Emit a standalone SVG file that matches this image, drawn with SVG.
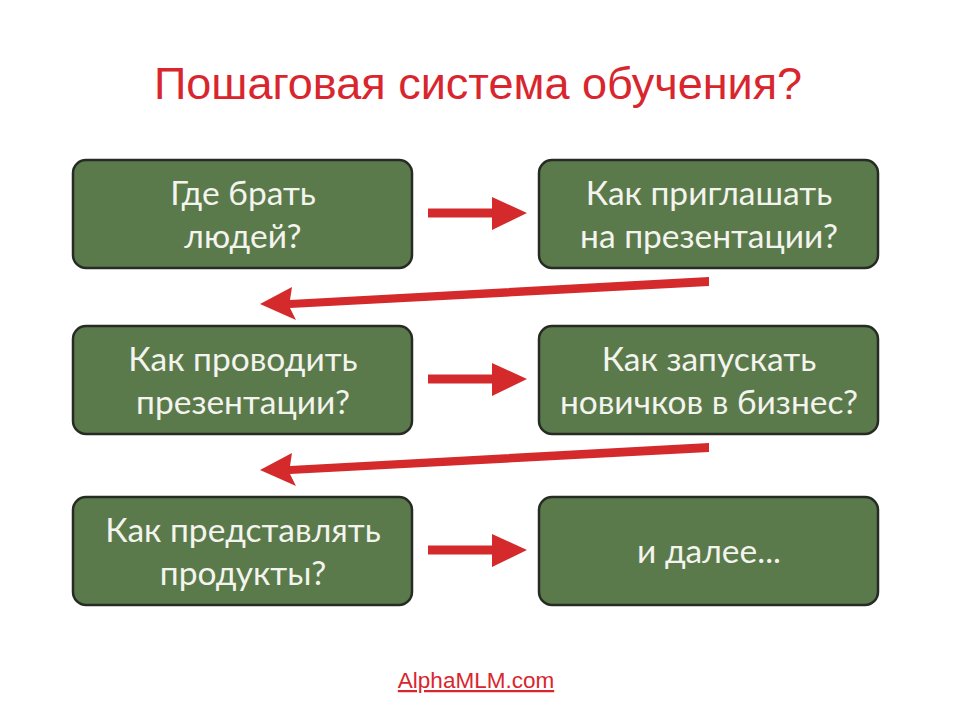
<svg xmlns="http://www.w3.org/2000/svg" width="960" height="720" viewBox="0 0 960 720">
<style>
.box{fill:#5b7a4b;stroke:#262b24;stroke-width:2.5}
.t{font-family:Lato,"Open Sans",sans-serif;font-size:33.5px;fill:#f4f4ee;text-anchor:middle}
.arr{fill:#d42a2c}
</style>
<rect width="960" height="720" fill="#ffffff"/>
<text x="478" y="99" font-family="Liberation Sans,Arial,sans-serif" font-size="45" fill="#d9262e" text-anchor="middle">Пошаговая система обучения?</text>
<g id="n1"><rect class="box" x="73" y="160" width="339" height="108" rx="13"/><text class="t" x="243" y="205">Где брать</text><text class="t" x="243" y="248">людей?</text></g>
<g id="n2"><rect class="box" x="539" y="160" width="339" height="108" rx="13"/><text class="t" x="709" y="205">Как приглашать</text><text class="t" x="709" y="248">на презентации?</text></g>
<g id="n3"><rect class="box" x="73" y="326" width="339" height="108" rx="13"/><text class="t" x="243" y="371">Как проводить</text><text class="t" x="243" y="414">презентации?</text></g>
<g id="n4"><rect class="box" x="539" y="326" width="339" height="108" rx="13"/><text class="t" x="709" y="371">Как запускать</text><text class="t" x="709" y="414">новичков в бизнес?</text></g>
<g id="n5"><rect class="box" x="73" y="497" width="339" height="108" rx="13"/><text class="t" x="243" y="542">Как представлять</text><text class="t" x="243" y="585">продукты?</text></g>
<g id="n6"><rect class="box" x="539" y="497" width="339" height="108" rx="13"/><text class="t" x="709" y="563">и далее...</text></g>
<g id="connectors">
<polygon class="arr" points="428,208.5 492,208.5 492,197 527,213 492,230 492,217.5 428,217.5"/>
<polygon class="arr" points="428,374.5 492,374.5 492,363 527,379 492,396 492,383.5 428,383.5"/>
<polygon class="arr" points="428,545.5 492,545.5 492,534 527,550 492,567 492,554.5 428,554.5"/>
<polygon class="arr" points="709,277 709,286 290,308 296,320 260,304 292,287 290,300"/>
<polygon class="arr" points="709,443 709,452 290,474 296,486 260,470 292,453 290,466"/>
</g>
<text x="476" y="688" font-family="Liberation Sans,Arial,sans-serif" font-size="22.5" fill="#d9262e" text-anchor="middle" text-decoration="underline">AlphaMLM.com</text>
</svg>
